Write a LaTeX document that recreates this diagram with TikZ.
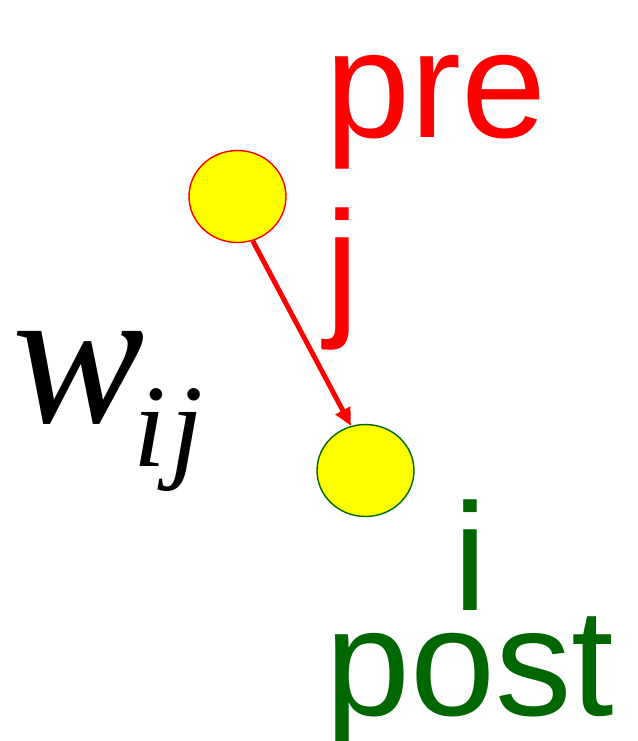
\documentclass[tikz,border=0pt]{standalone}
\usepackage{fontspec}
\setmainfont{Liberation Sans}
\newfontfamily\wfont{Liberation Serif}
\usetikzlibrary{shapes.geometric,arrows.meta}
\definecolor{postgreen}{HTML}{006600}
\definecolor{cellyellow}{HTML}{FFFF00}

\begin{document}
\begin{tikzpicture}[x=0.02cm, y=-0.02cm,
  neuron/.style={ellipse, fill=cellyellow, line width=0.8pt, inner sep=0,
                 minimum width=1.94cm, minimum height=1.84cm},
  lbl/.style={anchor=base west, inner sep=0, font=\fontsize{87}{90}\selectfont}]
  \useasboundingbox (0,0) rectangle (637,741);
  % the two neurons
  \node[neuron, draw=red] (neuronj) at (237.5,196.5) {};
  \node[neuron, draw=postgreen] (neuroni) at (365.5,470.5) {};
  % synapse j -> i
  \draw[-{Triangle[length=10pt, width=9pt]}, red, line width=2.8pt]
    (neuronj.-71) -- (neuroni.108);
  % labels
  \node[lbl, red] (lblpre) at (325,137) {pre};
  \node[lbl, red] (lblj) at (325,318) {j};
  \node[lbl, postgreen] (lbli) at (453,610) {i};
  \node[lbl, postgreen] (lblpost) at (325,715) {post};
  % weight
  \node[anchor=base west, inner sep=0, font=\wfont\itshape\fontsize{113}{115}\selectfont]
    (lblw) at (12,422) {w};
  \node[anchor=base west, inner sep=0, font=\wfont\itshape\fontsize{67}{69}\selectfont]
    (lblij) at (133,466) {i\kern0.04em j};
\end{tikzpicture}
\end{document}
